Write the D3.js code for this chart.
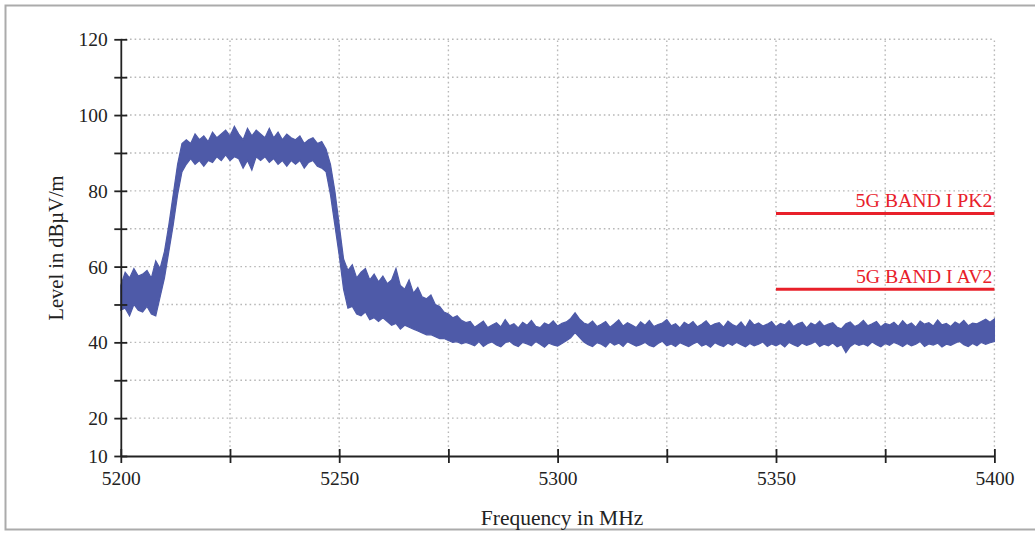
<!DOCTYPE html>
<html>
<head>
<meta charset="utf-8">
<script src="https://cdn.jsdelivr.net/npm/d3@7"></script>
<style>
  html, body { margin: 0; padding: 0; background: #fff; }
  svg { display: block; }
  text { font-family: "Liberation Serif", "Times New Roman", serif; }
</style>
</head>
<body>
<svg id="chart" width="1035" height="533"></svg>
<script>
// ---- data ----
const freqStart = 5200;           // MHz, first sample
const freqStepMHz = 1;            // MHz between samples
// upper envelope of the measured trace (dBµV/m), one value per MHz 5200..5400
const levelMax = [
  55,58.5,57,59.5,57.5,58,59,57,61.5,59.5,
  64,71,79,87,92.5,93.5,92.5,95,93.5,94.5,
  93,95.5,94,95,96,94.5,97,95,93.5,96.5,
  94.5,96,95,94,96.5,94,95.5,93.5,95,94,
  93.5,94.5,92.5,93.5,94,92.5,93,91,87,80,
  71,62,59,60.5,57,58.5,59.5,56.5,58,56,
  57.5,55.5,56.5,59.5,55,54,56.5,53,54.5,52,
  51.5,52.5,50,49.5,48,47.5,46.5,47,45.8,45.2,
  45.5,44,44.8,45.6,43.9,44.6,45.2,44.1,46,44.4,
  44.9,43.8,45.3,44.5,45.8,44.2,43.9,45.1,44.6,45.7,
  44.3,45,45.4,46.3,47.8,46.2,45.1,44.7,45.6,44.2,
  44.8,45.5,44,44.9,45.9,44.3,45.2,44.6,43.9,45.4,
  44.5,45.8,44.2,44.7,45.1,46,44.4,44.9,43.8,45.3,
  44.6,45.5,44.1,44.8,45.7,44.3,44.9,45.2,44,45.6,
  44.7,44.2,45.4,43.9,45.9,44.6,45.1,44.3,44.8,45.5,
  44.1,45,44.6,45.7,44.2,44.9,45.3,43.8,45.1,44.5,
  45.6,44.3,44.8,45.2,44,43.6,44.9,45.4,44.2,44.7,
  45.8,44.4,44.9,45.5,44.1,45,44.6,45.3,44.2,45.7,
  44.5,45.1,44,45.6,44.8,45.2,44.3,45.9,44.6,45,
  44.2,45.4,44.7,45.8,44.4,45.1,44.9,45.5,46.1,45.3,
  46.2
];
// lower envelope of the measured trace (dBµV/m)
const levelMin = [
  48.5,49,47,50,48.5,48,49.5,47.5,47,52,
  57,64,71,79,85,87,88.5,87,88,86.5,
  88,87.5,89,88,89.5,88,89,88.5,86,88,
  85.5,89,88,89,87.5,88.5,87,88,86.5,88,
  87,88,86,87.5,88,86.5,86,85,79,71,
  63,54,49,49.5,47.5,47,48,46,46.5,45.5,
  46.5,45.5,44.5,45,43.5,44.5,44,43.5,43,42.5,
  42,42,41.5,41,41,40.5,40,40.2,39.6,40,
  39.6,39.1,40.2,38.9,39.7,40.1,39.3,38.8,39.9,40.3,
  39.4,38.9,40,39.6,39.1,40.2,39.5,38.7,39.8,39.3,
  39,39.7,40.4,41.2,42.6,41.3,40.1,39.4,38.9,39.9,
  39.5,38.8,40.1,39.3,39.8,38.9,40.2,39.6,39,39.4,
  40,39.2,38.8,39.7,40.3,39.1,39.6,38.9,39.9,39.4,
  38.9,39.6,40.1,39,39.5,38.7,39.9,39.3,38.9,39.8,
  39.2,40,39.4,38.8,39.7,39.1,39.5,40.1,38.9,39.6,
  39.1,39.7,38.8,40,39.4,38.9,39.8,39.2,39.6,40.2,
  38.9,39.5,39.1,39.8,38.8,39.4,37.3,38.9,39.7,39.2,
  39.6,39,40.1,39.4,38.8,39.7,39.2,40,39.5,38.9,
  39.7,39.1,39.5,40.2,38.9,39.6,39.3,39.8,38.8,39.5,
  39.2,39.8,40.3,39.4,38.9,39.7,39.1,40,39.5,39.9,
  40.2
];
// limit lines
const limitNames = ["5G BAND I PK2", "5G BAND I AV2"];
const limitLevels = [74, 54];
const limitFrom = [5350, 5350];
const limitTo = [5400, 5400];
// axes
const xDomain = [5200, 5400];
const yDomain = [10, 120];
const xTicks = [5200, 5225, 5250, 5275, 5300, 5325, 5350, 5375, 5400];
const xTickLabels = [5200, 5250, 5300, 5350, 5400];
const yTicks = [10, 20, 30, 40, 50, 60, 70, 80, 90, 100, 110, 120];
const yTickLabels = [10, 20, 40, 60, 80, 100, 120];

// ---- drawing ----
const svg = d3.select("#chart");
const plotL = 120.8, plotR = 994.4, plotT = 39.3, plotB = 456;

// outer frame
svg.append("path")
  .attr("d", `M1040,5.5 H5.5 V529.5 H1040`)
  .attr("fill", "none").attr("stroke", "#ababab").attr("stroke-width", 2);

const x = d3.scaleLinear().domain(xDomain).range([plotL, plotR]);
const y = d3.scaleLinear().domain(yDomain).range([plotB, plotT]);

// grid
const grid = svg.append("g").attr("stroke", "#b8b8b8").attr("stroke-width", 1.4)
  .attr("stroke-dasharray", "1.6,3");
grid.selectAll("line.h").data(yTicks.filter(v => v > yDomain[0])).join("line")
  .attr("class", "h")
  .attr("x1", plotL).attr("x2", plotR).attr("y1", d => y(d)).attr("y2", d => y(d));
grid.selectAll("line.v").data(xTicks.filter(v => v > xDomain[0])).join("line")
  .attr("class", "v")
  .attr("y1", plotB).attr("y2", plotT).attr("x1", d => x(d)).attr("x2", d => x(d));

// trace
const samples = levelMax.map((v, i) => ({ f: freqStart + i * freqStepMHz, hi: v, lo: levelMin[i] }));
const area = d3.area().x(d => x(d.f)).y0(d => y(d.lo)).y1(d => y(d.hi));
svg.append("path").datum(samples)
  .attr("d", area)
  .attr("fill", "#4e5aa8")
  .attr("stroke", "#4e5aa8").attr("stroke-width", 1.2).attr("stroke-linejoin", "miter");

// limit lines
limitNames.forEach((name, i) => {
  svg.append("line")
    .attr("x1", x(limitFrom[i])).attr("x2", x(limitTo[i]))
    .attr("y1", y(limitLevels[i])).attr("y2", y(limitLevels[i]))
    .attr("stroke", "#e8202a").attr("stroke-width", 3);
  svg.append("text")
    .attr("x", x(limitTo[i]) - 2).attr("y", y(limitLevels[i]) - 6.5)
    .attr("text-anchor", "end").attr("fill", "#e8202a")
    .attr("font-size", 19.8).text(name);
});

// axes
const yAxis = svg.append("g").attr("transform", `translate(${plotL},0)`)
  .call(d3.axisLeft(y).tickValues(yTicks).tickSize(0).tickFormat(""));
yAxis.select(".domain").attr("stroke", "#222").attr("stroke-width", 1.8);
yAxis.selectAll(".tick").append("line")
  .attr("x1", -6.5).attr("x2", 6.5).attr("stroke", "#222").attr("stroke-width", 1.8);
yAxis.selectAll(".tick").filter(d => yTickLabels.includes(d)).append("text")
  .attr("x", -13).attr("dy", "0.34em").attr("text-anchor", "end")
  .attr("fill", "#222").attr("font-size", 19.5).text(d => d);

const xAxis = svg.append("g").attr("transform", `translate(0,${plotB})`)
  .call(d3.axisBottom(x).tickValues(xTicks).tickSize(0).tickFormat(""));
xAxis.select(".domain").attr("stroke", "#222").attr("stroke-width", 1.8);
xAxis.selectAll(".tick").append("line")
  .attr("y1", -7).attr("y2", 7).attr("stroke", "#222").attr("stroke-width", 1.8);
xAxis.selectAll(".tick").filter(d => xTickLabels.includes(d)).append("text")
  .attr("y", 28.5).attr("text-anchor", "middle")
  .attr("fill", "#222").attr("font-size", 19.5).text(d => d);

// axis titles
svg.append("text").attr("x", 562).attr("y", 525)
  .attr("text-anchor", "middle").attr("fill", "#222").attr("font-size", 21.5)
  .text("Frequency in MHz");
svg.append("text").attr("transform", `translate(63,248) rotate(-90)`)
  .attr("text-anchor", "middle").attr("fill", "#222").attr("font-size", 20.5)
  .text("Level in dBµV/m");
</script>
</body>
</html>
